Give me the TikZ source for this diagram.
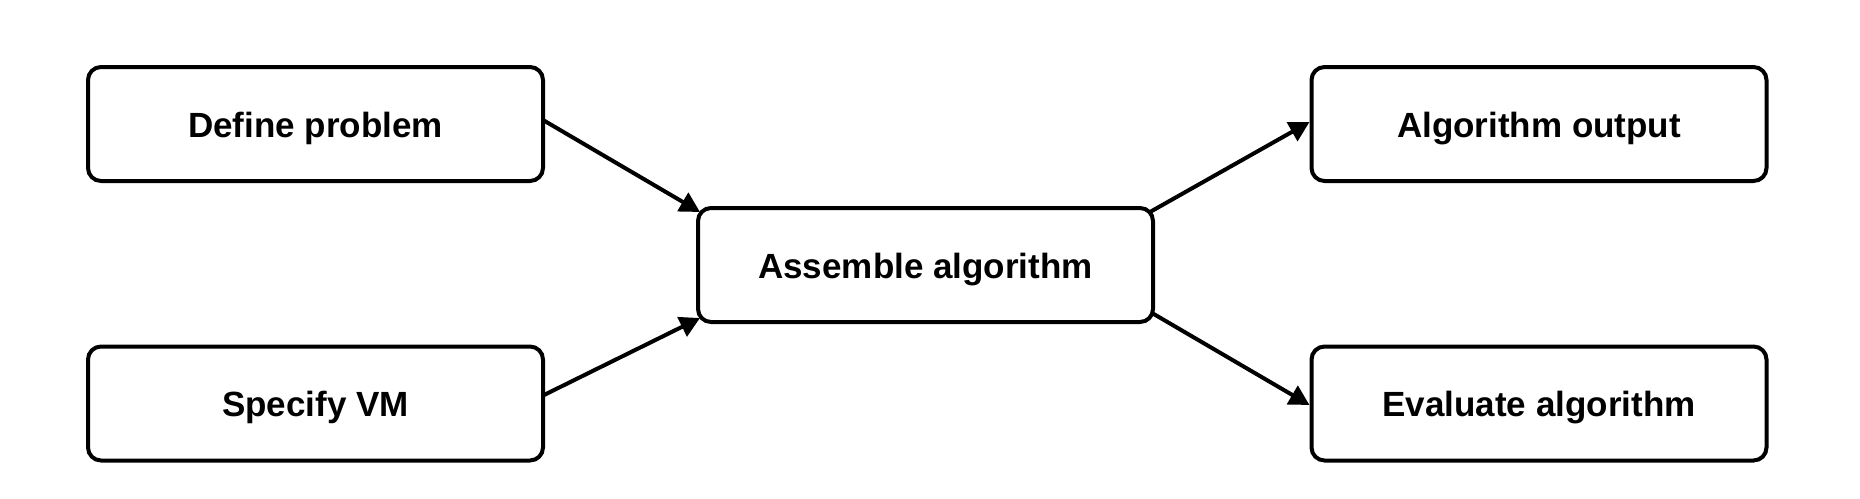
\documentclass[tikz,border=0pt]{standalone}
\usepackage{fontspec}
\setmainfont{Liberation Sans}
\usetikzlibrary{arrows.meta}
\begin{document}
\begin{tikzpicture}[x=1pt,y=-1pt,
  box/.style={draw=black,line width=4pt,rounded corners=13pt,minimum width=455pt,minimum height=114pt,inner sep=0pt,outer sep=0pt,text height=26pt,text depth=0pt,font=\fontsize{35pt}{40pt}\selectfont\bfseries,fill=white},
  conn/.style={line width=4pt,-{Triangle[length=20pt,width=21pt]}}]
\useasboundingbox[fill=white] (0,0) rectangle (1860,498);
\node[box] (def) at (315.5,124) {Define problem};
\node[box] (spec) at (315.5,403.5) {Specify VM};
\node[box] (asm) at (925.5,265) {Assemble algorithm};
\node[box] (out) at (1539,124) {Algorithm output};
\node[box] (eval) at (1539,403.5) {Evaluate algorithm};
\draw[conn] ([shift={(0,-4)}]def.east) -- ([shift={(2,4)}]asm.north west);
\draw[conn] ([shift={(0,-8)}]spec.east) -- ([shift={(2,-4)}]asm.south west);
\draw[conn] ([shift={(-3,4)}]asm.north east) -- ([shift={(-2,-2)}]out.west);
\draw[conn] ([shift={(-1,-9)}]asm.south east) -- ([shift={(-2,1.5)}]eval.west);
\end{tikzpicture}
\end{document}
